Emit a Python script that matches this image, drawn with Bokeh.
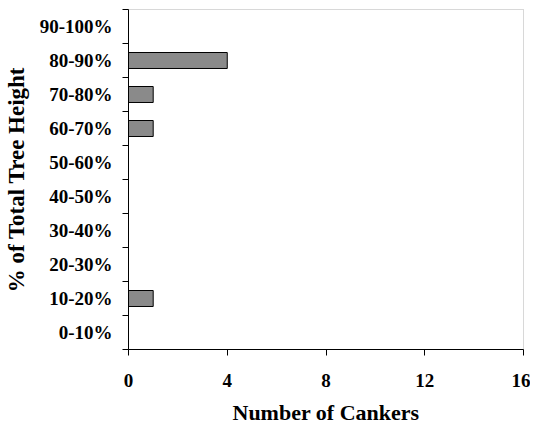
from bokeh.plotting import figure
from bokeh.models import FixedTicker, Range1d
from bokeh.embed import file_html
from bokeh.resources import INLINE

categories = ["0-10%", "10-20%", "20-30%", "30-40%", "40-50%",
              "50-60%", "60-70%", "70-80%", "80-90%", "90-100%"]
cankers = [0, 1, 0, 0, 0, 0, 1, 1, 4, 0]
x_ticks = [0, 4, 8, 12, 16]

centers = [i + 0.5 for i in range(len(categories))]
bounds = list(range(len(categories) + 1))

p = figure(width=530, height=429, output_backend="svg", toolbar_location=None,
           x_range=Range1d(0, 16), y_range=Range1d(0, len(categories)),
           min_border_left=128, min_border_right=7, min_border_top=9, min_border_bottom=80)

p.hbar(y=centers, right=cankers, left=0, height=0.47,
       fill_color="#8a8a8a", line_color="black", line_width=1)

p.grid.visible = False
p.outline_line_color = "#b0b0b0"
p.outline_line_dash = "1 1"
p.background_fill_color = "white"
p.border_fill_color = "white"

font = "Liberation Serif"

p.yaxis.ticker = FixedTicker(ticks=centers, minor_ticks=bounds)
p.yaxis.major_label_overrides = {c: lab for c, lab in zip(centers, categories)}
p.yaxis.major_tick_out = 0
p.yaxis.major_tick_in = 0
p.yaxis.minor_tick_out = 6
p.yaxis.minor_tick_in = 0
p.yaxis.minor_tick_line_color = "black"
p.yaxis.axis_line_color = "black"
p.yaxis.major_label_text_font = font
p.yaxis.major_label_text_font_style = "bold"
p.yaxis.major_label_text_font_size = "19px"
p.yaxis.major_label_text_color = "black"
p.yaxis.major_label_standoff = 10
p.yaxis.axis_label = "% of Total Tree Height"
p.yaxis.axis_label_text_font = font
p.yaxis.axis_label_text_font_style = "bold"
p.yaxis.axis_label_text_font_size = "23px"
p.yaxis.axis_label_text_color = "black"
p.yaxis.axis_label_standoff = 8

p.xaxis.ticker = FixedTicker(ticks=x_ticks, minor_ticks=[])
p.xaxis.major_tick_out = 6
p.xaxis.major_tick_in = 0
p.xaxis.major_tick_line_color = "black"
p.xaxis.axis_line_color = "black"
p.xaxis.major_label_text_font = font
p.xaxis.major_label_text_font_style = "bold"
p.xaxis.major_label_text_font_size = "19px"
p.xaxis.major_label_text_color = "black"
p.xaxis.major_label_standoff = 18
p.xaxis.axis_label = "Number of Cankers"
p.xaxis.axis_label_text_font = font
p.xaxis.axis_label_text_font_style = "bold"
p.xaxis.axis_label_text_font_size = "22px"
p.xaxis.axis_label_text_color = "black"
p.xaxis.axis_label_standoff = 10

open("out.html", "w").write(file_html(p, INLINE))
